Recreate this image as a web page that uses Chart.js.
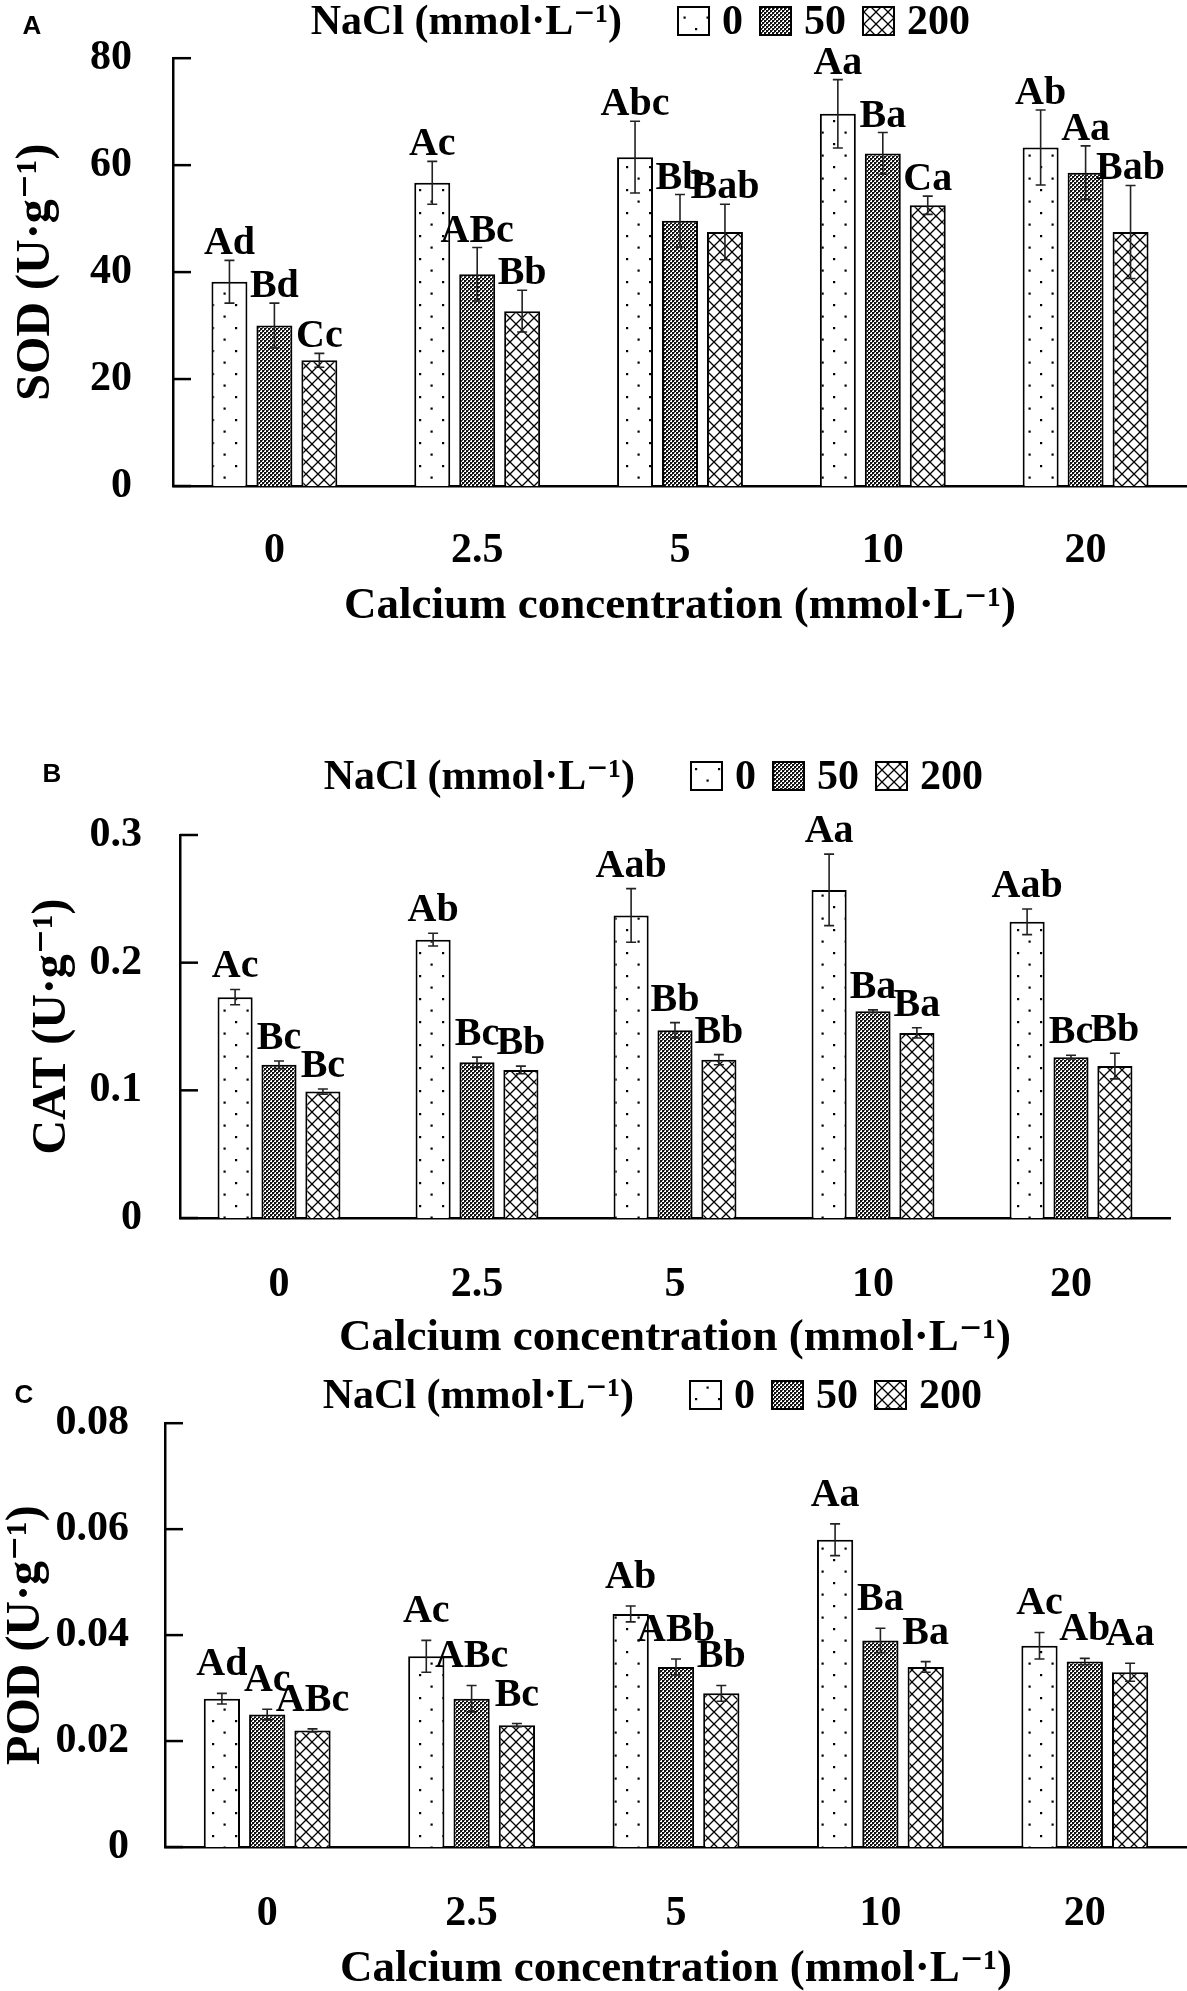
<!DOCTYPE html>
<html>
<head>
<meta charset="utf-8">
<script src="https://cdn.jsdelivr.net/npm/chart.js@4.4.1/dist/chart.umd.min.js"></script>
<style>
  html, body { margin: 0; padding: 0; background: #fff; overflow: hidden; }
  body { width: 1187px; height: 1991px; position: relative; }
  .panel { position: absolute; left: 0; }
</style>
</head>
<body>
<div class="panel" style="top:0px"><canvas id="sod-chart" width="1187" height="660"></canvas></div>
<div class="panel" style="top:740px"><canvas id="cat-chart" width="1187" height="640"></canvas></div>
<div class="panel" style="top:1370px"><canvas id="pod-chart" width="1187" height="640"></canvas></div>
<script>
// calcium levels on the x axis and NaCl levels in the legend
const categories = ['0', '2.5', '5', '10', '20'];
const naclLevels = ['0', '50', '200'];
const legendTitle = 'NaCl (mmol\u00b7L\u207b\u00b9)';
const xTitle = 'Calcium concentration (mmol\u00b7L\u207b\u00b9)';

// SOD
const sod0 = [38.2, 56.7, 61.5, 69.6, 63.3];
const sod50 = [30.0, 39.6, 49.6, 62.2, 58.6];
const sod200 = [23.5, 32.7, 47.5, 52.5, 47.5];
const sodErr0 = [4.0, 4.0, 6.7, 6.4, 7.0];
const sodErr50 = [4.2, 5.0, 4.9, 3.9, 5.0];
const sodErr200 = [1.3, 3.9, 5.2, 1.7, 8.7];
const sodSig0 = ['Ad', 'Ac', 'Abc', 'Aa', 'Ab'];
const sodSig50 = ['Bd', 'ABc', 'Bb', 'Ba', 'Aa'];
const sodSig200 = ['Cc', 'Bb', 'Bab', 'Ca', 'Bab'];

// CAT
const cat0 = [0.173, 0.218, 0.237, 0.257, 0.232];
const cat50 = [0.120, 0.122, 0.147, 0.162, 0.126];
const cat200 = [0.099, 0.116, 0.124, 0.145, 0.119];
const catErr0 = [0.006, 0.005, 0.021, 0.028, 0.010];
const catErr50 = [0.003, 0.004, 0.006, 0.001, 0.0015];
const catErr200 = [0.002, 0.003, 0.004, 0.004, 0.010];
const catSig0 = ['Ac', 'Ab', 'Aab', 'Aa', 'Aab'];
const catSig50 = ['Bc', 'Bc', 'Bb', 'Ba', 'Bc'];
const catSig200 = ['Bc', 'Bb', 'Bb', 'Ba', 'Bb'];

// POD
const pod0 = [0.028, 0.036, 0.044, 0.058, 0.038];
const pod50 = [0.025, 0.028, 0.034, 0.039, 0.035];
const pod200 = [0.022, 0.023, 0.029, 0.034, 0.033];
const podErr0 = [0.001, 0.003, 0.0015, 0.003, 0.0025];
const podErr50 = [0.001, 0.0025, 0.0015, 0.0023, 0.0006];
const podErr200 = [0.0003, 0.0003, 0.0015, 0.001, 0.0017];
const podSig0 = ['Ad', 'Ac', 'Ab', 'Aa', 'Ac'];
const podSig50 = ['Ac', 'ABc', 'ABb', 'Ba', 'Ab'];
const podSig200 = ['ABc', 'Bc', 'Bb', 'Ba', 'Aa'];

const serif = "'Liberation Serif', 'Times New Roman', 'DejaVu Serif', serif";

// fill patterns for the three NaCl levels
function makePattern(w, h, draw) {
    const c = document.createElement('canvas');
    c.width = w;
    c.height = h;
    const g = c.getContext('2d');
    g.fillStyle = '#fff';
    g.fillRect(0, 0, w, h);
    draw(g);
    return g.createPattern(c, 'repeat');
}

const dotFill = makePattern(23, 23, (g) => {
    g.fillStyle = '#000';
    g.fillRect(5, 5, 2.2, 2.2);
    g.fillRect(16.5, 16.5, 2.2, 2.2);
});
const checkFill = makePattern(4, 4, (g) => {
    g.fillStyle = '#111';
    g.fillRect(0, 0, 2, 2);
    g.fillRect(2, 2, 2, 2);
    g.fillStyle = '#555';
    g.fillRect(2, 0, 1, 1);
    g.fillRect(0, 2, 1, 1);
});
const crossFill = makePattern(12, 12, (g) => {
    g.strokeStyle = '#000';
    g.lineWidth = 1.3;
    g.beginPath();
    g.moveTo(0, 0); g.lineTo(12, 12);
    g.moveTo(12, 0); g.lineTo(0, 12);
    g.stroke();
});
const fills = [dotFill, checkFill, crossFill];

// error bars, significance letters, inward y ticks, legend and panel letter
const decorPlugin = {
    id: 'decor',
    afterDatasetsDraw(chart, args, opts) {
        const ctx = chart.ctx;
        const yScale = chart.scales.y;
        const area = chart.chartArea;
        ctx.save();
        ctx.strokeStyle = '#000';
        ctx.lineWidth = 2.5;
        yScale.ticks.forEach((t) => {
            const py = yScale.getPixelForValue(t.value);
            ctx.beginPath();
            ctx.moveTo(area.left, py);
            ctx.lineTo(area.left + 18, py);
            ctx.stroke();
        });

        chart.data.datasets.forEach((ds, i) => {
            const meta = chart.getDatasetMeta(i);
            meta.data.forEach((bar, j) => {
                const v = ds.data[j];
                const e = ds.errors[j];
                const top = yScale.getPixelForValue(v + e);
                const bot = yScale.getPixelForValue(v - e);
                ctx.strokeStyle = '#222';
                ctx.lineWidth = 1.6;
                ctx.beginPath();
                ctx.moveTo(bar.x, top); ctx.lineTo(bar.x, bot);
                ctx.moveTo(bar.x - 5, top); ctx.lineTo(bar.x + 5, top);
                ctx.moveTo(bar.x - 5, bot); ctx.lineTo(bar.x + 5, bot);
                ctx.stroke();

                ctx.fillStyle = '#000';
                ctx.font = 'bold 40px ' + serif;
                ctx.textAlign = 'center';
                ctx.textBaseline = 'alphabetic';
                ctx.fillText(ds.letters[j], bar.x, top - opts.labelGap);
            });
        });
        ctx.restore();
    },
    afterDraw(chart, args, opts) {
        const ctx = chart.ctx;
        ctx.save();
        ctx.fillStyle = '#000';
        ctx.font = 'bold 42px ' + serif;
        ctx.textBaseline = 'middle';
        ctx.textAlign = 'right';
        let x = opts.legendX;
        const ly = opts.legendY;
        ctx.fillText(legendTitle, x - 56, ly + 2);
        ctx.textAlign = 'left';
        chart.data.datasets.forEach((ds) => {
            ctx.fillStyle = ds.backgroundColor;
            ctx.fillRect(x, ly - 14, 31, 28);
            ctx.strokeStyle = '#000';
            ctx.lineWidth = 2;
            ctx.strokeRect(x, ly - 14, 31, 28);
            x += 31 + 13;
            ctx.fillStyle = '#000';
            ctx.fillText(ds.label, x, ly + 2);
            x += ctx.measureText(ds.label).width + 17;
        });

        ctx.font = 'bold 26px "Liberation Sans", Arial, sans-serif';
        ctx.textAlign = 'center';
        ctx.fillText(opts.panel, opts.panelX, opts.panelY);
        ctx.restore();
    }
};

function buildChart(id, cfg) {
    const ctx = document.getElementById(id);
    const height = ctx.height;
    return new Chart(ctx, {
        type: 'bar',
        data: {
            labels: categories,
            datasets: naclLevels.map((lvl, i) => ({
                label: lvl,
                data: cfg.values[i],
                errors: cfg.errors[i],
                letters: cfg.letters[i],
                backgroundColor: fills[i],
                borderColor: '#000',
                borderWidth: 2,
                barPercentage: 0.8,
                categoryPercentage: 0.665
            }))
        },
        options: {
            responsive: false,
            animation: false,
            devicePixelRatio: 1,
            layout: {
                padding: { top: cfg.top, right: cfg.right, left: 0, bottom: 0 }
            },
            scales: {
                x: {
                    grid: { display: false },
                    border: { display: true, color: '#000', width: 2.5 },
                    ticks: {
                        color: '#000',
                        padding: cfg.xTickPad,
                        font: { family: serif, size: 42, weight: 'bold' }
                    },
                    title: {
                        display: true,
                        text: xTitle,
                        color: '#000',
                        font: { family: serif, size: 45, weight: 'bold', lineHeight: 1.2 },
                        padding: { top: 0, bottom: cfg.xTitlePad }
                    },
                    afterFit: (scale) => { scale.height = height - cfg.bottom; }
                },
                y: {
                    min: 0,
                    max: cfg.max,
                    grid: { display: false },
                    border: { display: true, color: '#000', width: 2.5 },
                    ticks: {
                        stepSize: cfg.step,
                        color: '#000',
                        padding: cfg.yTickPad,
                        font: { family: serif, size: 42, weight: 'bold' }
                    },
                    title: {
                        display: true,
                        text: cfg.yTitle,
                        color: '#000',
                        font: { family: serif, size: 48, weight: 'bold', lineHeight: 1.1 },
                        padding: { top: cfg.yTitlePad, bottom: 0 }
                    },
                    afterFit: (scale) => { scale.width = cfg.left; }
                }
            },
            plugins: {
                legend: { display: false },
                tooltip: { enabled: false },
                decor: {
                    labelGap: cfg.labelGap,
                    legendX: cfg.legendX,
                    legendY: cfg.legendY,
                    panel: cfg.panel,
                    panelX: cfg.panelX,
                    panelY: cfg.panelY
                }
            }
        },
        plugins: [decorPlugin]
    });
}

buildChart('sod-chart', {
    values: [sod0, sod50, sod200],
    errors: [sodErr0, sodErr50, sodErr200],
    letters: [sodSig0, sodSig50, sodSig200],
    yTitle: 'SOD (U\u00b7g\u207b\u00b9)',
    max: 80, step: 20,
    top: 58, bottom: 486, left: 173, right: 0,
    xTickPad: 32, xTitlePad: 27, yTickPad: 33, yTitlePad: 10,
    labelGap: 6,
    legendX: 678, legendY: 21,
    panel: 'A', panelX: 32, panelY: 27
});

buildChart('cat-chart', {
    values: [cat0, cat50, cat200],
    errors: [catErr0, catErr50, catErr200],
    letters: [catSig0, catSig50, catSig200],
    yTitle: 'CAT (U\u00b7g\u207b\u00b9)',
    max: 0.3, step: 0.1,
    top: 95, bottom: 478, left: 180, right: 17,
    xTickPad: 34, xTitlePad: 15, yTickPad: 30, yTitlePad: 26,
    labelGap: 12,
    legendX: 691, legendY: 36,
    panel: 'B', panelX: 52, panelY: 35
});

buildChart('pod-chart', {
    values: [pod0, pod50, pod200],
    errors: [podErr0, podErr50, podErr200],
    letters: [podSig0, podSig50, podSig200],
    yTitle: 'POD (U\u00b7g\u207b\u00b9)',
    max: 0.08, step: 0.02,
    top: 51, bottom: 477, left: 165, right: 0,
    xTickPad: 34, xTitlePad: 14, yTickPad: 28, yTitlePad: 0,
    labelGap: 18,
    legendX: 690, legendY: 25,
    panel: 'C', panelX: 24, panelY: 26
});
</script>
</body>
</html>
